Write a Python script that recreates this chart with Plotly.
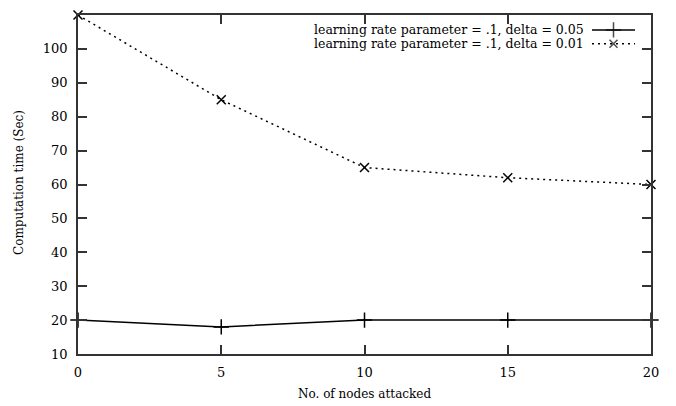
import plotly.graph_objects as go

# ---- data ----
nodes_attacked = [0, 5, 10, 15, 20]
time_delta_005 = [20, 18, 20, 20, 20]
time_delta_001 = [110, 85, 65, 62, 60]
series_names = ["learning rate parameter = .1, delta = 0.05",
                "learning rate parameter = .1, delta = 0.01"]
x_ticks = [0, 5, 10, 15, 20]
y_ticks = [10, 20, 30, 40, 50, 60, 70, 80, 90, 100, 110]

FONT = "DejaVu Serif"
OFF = 8  # default page body margin
WIN_W, WIN_H = 676, 406
W, H = WIN_W - OFF, WIN_H - OFF
# plot area in window pixels: x 78..651, y 13..354
PX0, PX1, PY0, PY1 = 78, 651, 13, 354
L = PX0 - OFF
R = W - (PX1 - OFF)
T = PY0 - OFF
B = H - (PY1 - OFF)
pw, ph = W - L - R, H - T - B

def px_x(p):
    return (p - OFF - L) / pw

def px_y(p):
    return (H - B - (p - OFF)) / ph

fig = go.Figure()
fig.add_trace(go.Scatter(
    x=nodes_attacked, y=time_delta_005, mode="lines+markers",
    line=dict(color="black", width=1.5), cliponaxis=False,
    marker=dict(symbol="cross-thin", size=11, line=dict(color="black", width=1.5)),
    showlegend=False))
fig.add_trace(go.Scatter(
    x=nodes_attacked, y=time_delta_001, mode="lines+markers",
    line=dict(color="black", width=1.5, dash="2px,4px"), cliponaxis=False,
    marker=dict(symbol="x-thin", size=9, line=dict(color="black", width=1.5)),
    showlegend=False))

# legend samples (gnuplot style: text, then sample on the right)
x0, x1 = px_x(592), px_x(635)
xm = (x0 + x1) / 2
rows = [px_y(28), px_y(42)]
styles = [("solid", "cross-thin", 11), ("2px,4px", "x-thin", 8)]
for (dash, sym, sz), yy, name in zip(styles, rows, series_names):
    fig.add_trace(go.Scatter(
        x=[x0, xm, x1], y=[yy, yy, yy], mode="lines+markers",
        xaxis="x2", yaxis="y2",
        line=dict(color="black", width=1.5, dash=dash),
        marker=dict(symbol=sym, size=[0, sz, 0], line=dict(color="black", width=1.5)),
        showlegend=False, hoverinfo="skip"))
    fig.add_annotation(text=name, xref="paper", yref="paper",
                       x=px_x(586), y=yy, xanchor="right", yanchor="middle",
                       showarrow=False, font=dict(family=FONT, size=12.5, color="black"))

axis_common = dict(showline=True, linecolor="#333333", linewidth=1.5, mirror="ticks",
                   ticks="inside", ticklen=9, tickwidth=1.5, tickcolor="#333333",
                   showgrid=False, zeroline=False,
                   tickfont=dict(family=FONT, size=13, color="black"))

fig.update_layout(
    width=W, height=H, margin=dict(l=L, r=R, t=T, b=B),
    plot_bgcolor="white", paper_bgcolor="white",
    xaxis=dict(range=[0, 20], tickvals=x_ticks, ticklabelstandoff=6, **axis_common),
    yaxis=dict(range=[10, 110], tickvals=y_ticks, ticklabelstandoff=6, **axis_common),
    xaxis2=dict(range=[0, 1], overlaying="x", visible=False, domain=[0, 1]),
    yaxis2=dict(range=[0, 1], overlaying="y", visible=False, domain=[0, 1]),
)
fig.add_annotation(text="No. of nodes attacked", xref="paper", yref="paper",
                   x=0.5, y=px_y(394), xanchor="center", yanchor="middle",
                   showarrow=False, font=dict(family=FONT, size=12, color="black"))
fig.add_annotation(text="Computation time (Sec)", xref="paper", yref="paper",
                   x=px_x(19), y=px_y(182), xanchor="center", yanchor="middle",
                   textangle=-90, showarrow=False,
                   font=dict(family=FONT, size=12, color="black"))

fig.write_html("out.html")
